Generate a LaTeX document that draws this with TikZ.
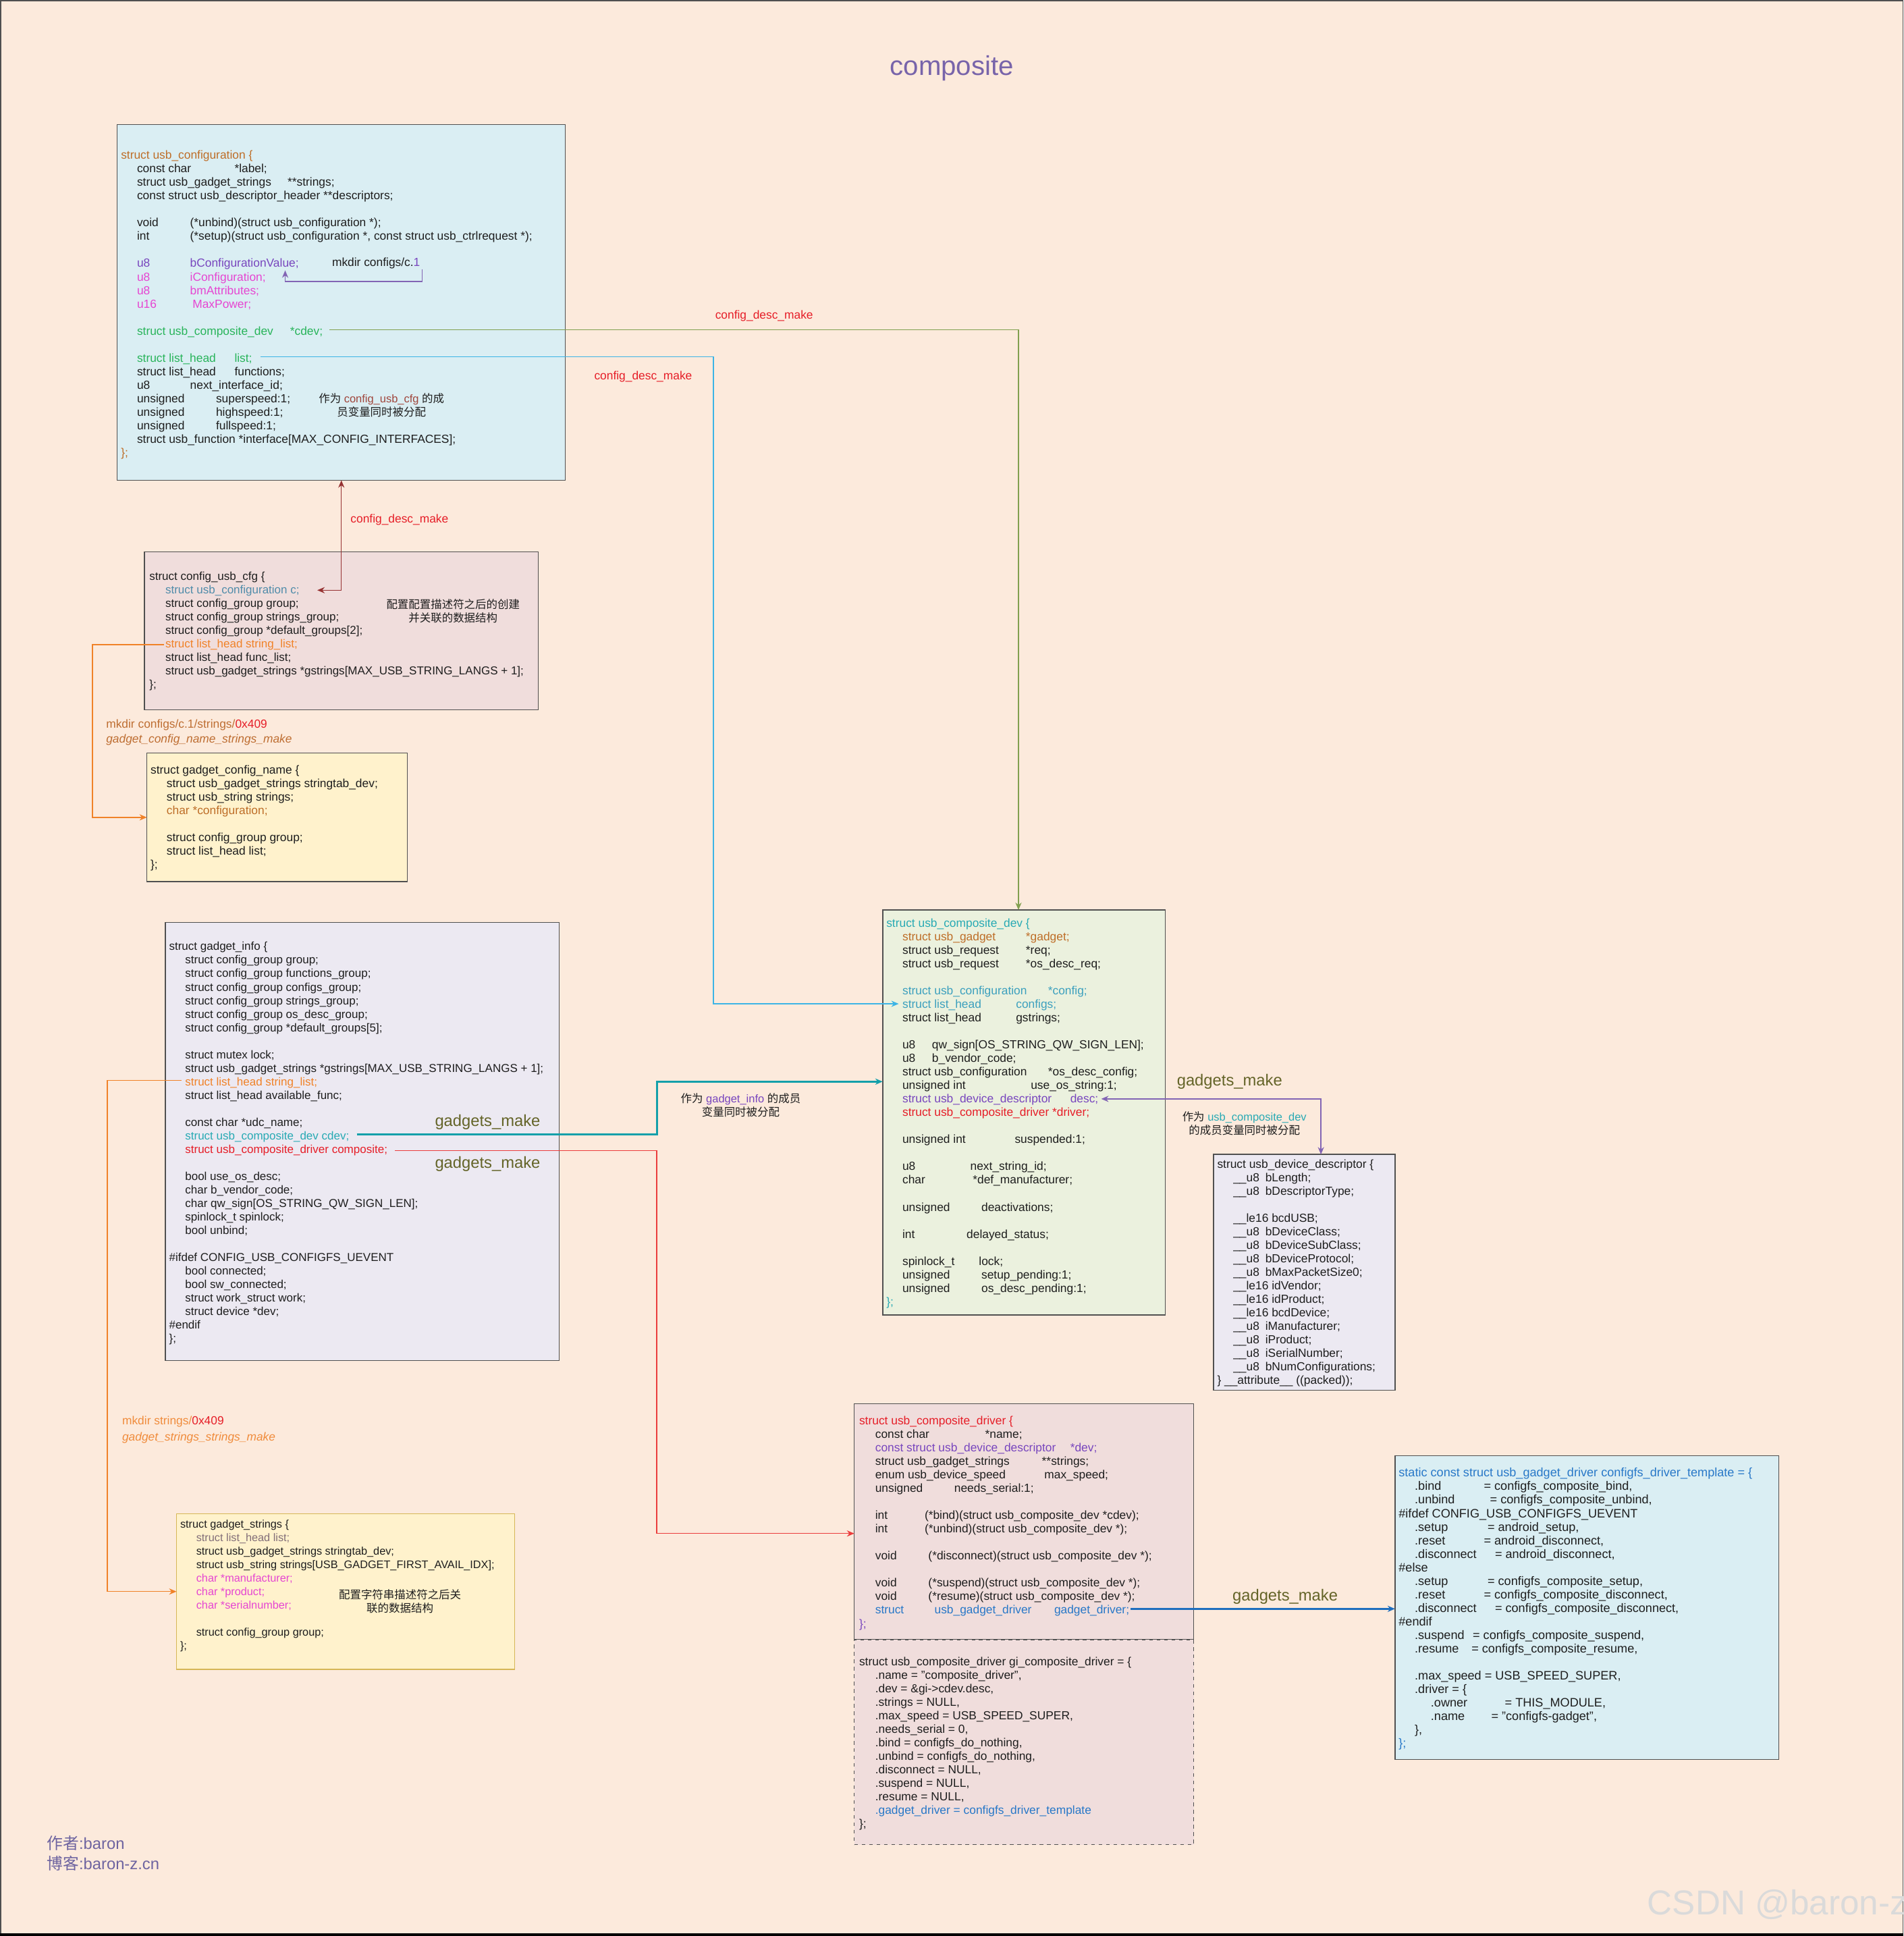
\documentclass[tikz,border=0pt]{standalone}
\usepackage{fontspec}
\setmainfont{Liberation Sans}
\newfontfamily\cjk{Noto Sans CJK SC}
\usetikzlibrary{arrows.meta}
\definecolor{cfceadc}{RGB}{252,234,220}
\definecolor{cdaeef3}{RGB}{218,238,243}
\definecolor{cf0dddc}{RGB}{240,221,220}
\definecolor{cfff2cc}{RGB}{255,242,204}
\definecolor{cece9f2}{RGB}{236,233,242}
\definecolor{cebf1de}{RGB}{235,241,222}
\definecolor{c505050}{RGB}{80,80,80}
\definecolor{cd6b656}{RGB}{214,182,86}
\definecolor{c1e1e1e}{RGB}{30,30,30}
\definecolor{cbe6e28}{RGB}{190,110,40}
\definecolor{c7846be}{RGB}{120,70,190}
\definecolor{ce646d2}{RGB}{230,70,210}
\definecolor{c28b45a}{RGB}{40,180,90}
\definecolor{c28aab4}{RGB}{40,170,180}
\definecolor{c3ca0be}{RGB}{60,160,190}
\definecolor{cf08228}{RGB}{240,130,40}
\definecolor{cf08c3c}{RGB}{240,140,60}
\definecolor{ce61e28}{RGB}{230,30,40}
\definecolor{c2878c8}{RGB}{40,120,200}
\definecolor{c646428}{RGB}{100,100,40}
\definecolor{c508caa}{RGB}{80,140,170}
\definecolor{c963c3c}{RGB}{160,70,60}
\definecolor{c826e78}{RGB}{130,110,120}
\definecolor{cbe6e32}{RGB}{190,110,50}
\definecolor{c82a050}{RGB}{130,160,80}
\definecolor{c3cb4e6}{RGB}{60,180,230}
\definecolor{c963232}{RGB}{150,50,50}
\definecolor{c8264b4}{RGB}{130,100,180}
\definecolor{c14a0aa}{RGB}{20,160,170}
\definecolor{ceb3c3c}{RGB}{235,60,60}
\definecolor{c1e6ebe}{RGB}{30,110,190}
\definecolor{c7864aa}{RGB}{120,100,170}
\definecolor{c6e64a0}{RGB}{110,100,160}
\definecolor{cdcdcdc}{RGB}{218,218,218}
\newlength{\colw}
\newcommand{\cin}{\hspace*{13pt}}
\newcommand{\ccol}[2]{\settowidth{\colw}{#2\ }\ifdim\colw<#1pt\makebox[#1pt][l]{#2}\else#2\ \fi}

\begin{document}
\begin{tikzpicture}[x=1pt, y=-1pt, inner sep=0pt, outer sep=0pt,
  box/.style={draw=c505050, line width=0.8pt, anchor=north west, rectangle},
  code/.style={anchor=north west, align=left, text=c1e1e1e, font=\fontsize{#1}{10.95}\selectfont},
  code/.default=9.5,
  note/.style={align=center, text=c1e1e1e, font=\fontsize{9}{11}\selectfont},
  lbl/.style={text=ce61e28, font=\fontsize{9.5}{11}\selectfont},
  mklbl/.style={text=c646428, font=\fontsize{13}{15}\selectfont},
  link/.style={line width=0.8pt, -{Stealth[length=6pt,width=5pt]}}]
  \useasboundingbox (0,0) rectangle (1542,1568);
  \path[fill=cfceadc, draw=c505050, line width=1pt] (0.5,0.5) rectangle (1541.5,1567);
  \path[draw=black, line width=2pt] (0,1567) -- (1542,1567);

  \node[text=c7864aa, font=\fontsize{22}{26}\selectfont] (title) at (771,55) {composite};

  % boxes
  \node[box, fill=cdaeef3, minimum width=363pt, minimum height=288pt] (usbcfg) at (95,101) {};
  \node[box, fill=cf0dddc, minimum width=319pt, minimum height=128pt] (cfgusb) at (117,447) {};
  \node[box, fill=cfff2cc, minimum width=211pt, minimum height=104pt] (gcname) at (119,610) {};
  \node[box, fill=cece9f2, minimum width=319pt, minimum height=355pt] (ginfo) at (134,747) {};
  \node[box, draw=cd6b656, fill=cfff2cc, minimum width=274pt, minimum height=126pt] (gstr) at (143,1226) {};
  \node[box, fill=cebf1de, minimum width=229pt, minimum height=328pt] (compdev) at (715,737) {};
  \node[box, fill=cece9f2, minimum width=147pt, minimum height=191pt] (devdesc) at (983,935) {};
  \node[box, fill=cf0dddc, minimum width=275pt, minimum height=191pt] (cdrvtop) at (692,1137) {};
  \node[box, fill=cf0dddc, dashed, minimum width=275pt, minimum height=166pt] (cdrvbot) at (692,1328) {};
  \node[box, fill=cdaeef3, minimum width=311pt, minimum height=246pt] (tmpl) at (1130,1179) {};

  \node[code] (usbcfgtxt) at (98,122) {\textcolor{cbe6e28}{struct usb\_configuration \{}\\
    \cin\ccol{79}{const char}*label;\\
    \cin\ccol{122}{struct usb\_gadget\_strings}**strings;\\
    \cin const struct usb\_descriptor\_header **descriptors;\\
    \mbox{}\\
    \cin\ccol{43}{void}(*unbind)(struct usb\_configuration *);\\
    \cin\ccol{43}{int}(*setup)(struct usb\_configuration *, const struct usb\_ctrlrequest *);\\
    \mbox{}\\
    \cin\textcolor{c7846be}{\ccol{43}{u8}bConfigurationValue;}\\
    \cin\textcolor{ce646d2}{\ccol{43}{u8}iConfiguration;}\\
    \cin\textcolor{ce646d2}{\ccol{43}{u8}bmAttributes;}\\
    \cin\textcolor{ce646d2}{\ccol{45}{u16}MaxPower;}\\
    \mbox{}\\
    \cin\textcolor{c28b45a}{\ccol{124}{struct usb\_composite\_dev}*cdev;}\\
    \mbox{}\\
    \cin\textcolor{c28b45a}{\ccol{79}{struct list\_head}list;}\\
    \cin\ccol{79}{struct list\_head}functions;\\
    \cin\ccol{43}{u8}next\_interface\_id;\\
    \cin\ccol{64}{unsigned}superspeed:1;\\
    \cin\ccol{64}{unsigned}highspeed:1;\\
    \cin\ccol{64}{unsigned}fullspeed:1;\\
    \cin struct usb\_function *interface[MAX\_CONFIG\_INTERFACES];\\
    \textcolor{cbe6e28}{\};}};
  \node[code, anchor=base west, text=c1e1e1e] (mkdircfg) at (269,215.5) {mkdir configs/c.\textcolor{c7846be}{1}};
  \node[note] (notecfg) at (309,328) {{\cjk 作为} \textcolor{c963c3c}{config\_usb\_cfg} {\cjk 的成}\\{\cjk 员变量同时被分配}};

  \node[code=9.3] (cfgusbtxt) at (121,463) {struct config\_usb\_cfg \{\\
    \cin\textcolor{c508caa}{struct usb\_configuration c;}\\
    \cin struct config\_group group;\\
    \cin struct config\_group strings\_group;\\
    \cin struct config\_group *default\_groups[2];\\
    \cin\textcolor{cf08228}{struct list\_head string\_list;}\\
    \cin struct list\_head func\_list;\\
    \cin struct usb\_gadget\_strings *gstrings[MAX\_USB\_STRING\_LANGS + 1];\\
    \};};
  \node[note] (notecfgusb) at (367,495) {{\cjk 配置配置描述符之后的创建}\\{\cjk 并关联的数据结构}};

  \node[code] (gcnametxt) at (122,620) {struct gadget\_config\_name \{\\
    \cin struct usb\_gadget\_strings stringtab\_dev;\\
    \cin struct usb\_string strings;\\
    \cin\textcolor{cbe6e28}{char *configuration;}\\
    \mbox{}\\
    \cin struct config\_group group;\\
    \cin struct list\_head list;\\
    \};};

  \node[code=9.3] (ginfotxt) at (137,763) {struct gadget\_info \{\\
    \cin struct config\_group group;\\
    \cin struct config\_group functions\_group;\\
    \cin struct config\_group configs\_group;\\
    \cin struct config\_group strings\_group;\\
    \cin struct config\_group os\_desc\_group;\\
    \cin struct config\_group *default\_groups[5];\\
    \mbox{}\\
    \cin struct mutex lock;\\
    \cin struct usb\_gadget\_strings *gstrings[MAX\_USB\_STRING\_LANGS + 1];\\
    \cin\textcolor{cf08228}{struct list\_head string\_list;}\\
    \cin struct list\_head available\_func;\\
    \mbox{}\\
    \cin const char *udc\_name;\\
    \cin\textcolor{c28aab4}{struct usb\_composite\_dev cdev;}\\
    \cin\textcolor{ce61e28}{struct usb\_composite\_driver composite;}\\
    \mbox{}\\
    \cin bool use\_os\_desc;\\
    \cin char b\_vendor\_code;\\
    \cin char qw\_sign[OS\_STRING\_QW\_SIGN\_LEN];\\
    \cin spinlock\_t spinlock;\\
    \cin bool unbind;\\
    \mbox{}\\
    \#ifdef CONFIG\_USB\_CONFIGFS\_UEVENT\\
    \cin bool connected;\\
    \cin bool sw\_connected;\\
    \cin struct work\_struct work;\\
    \cin struct device *dev;\\
    \#endif\\
    \};};

  \node[code=8.9] (gstrtxt) at (146,1231) {struct gadget\_strings \{\\
    \cin\textcolor{c826e78}{struct list\_head list;}\\
    \cin struct usb\_gadget\_strings stringtab\_dev;\\
    \cin struct usb\_string strings[USB\_GADGET\_FIRST\_AVAIL\_IDX];\\
    \cin\textcolor{ce646d2}{char *manufacturer;}\\
    \cin\textcolor{ce646d2}{char *product;}\\
    \cin\textcolor{ce646d2}{char *serialnumber;}\\
    \mbox{}\\
    \cin struct config\_group group;\\
    \};};
  \node[note] (notegstr) at (324,1297) {{\cjk 配置字符串描述符之后关}\\{\cjk 联的数据结构}};

  \node[code] (compdevtxt) at (718,744) {\textcolor{c28aab4}{struct usb\_composite\_dev \{}\\
    \cin\textcolor{cbe6e28}{\ccol{100}{struct usb\_gadget}*gadget;}\\
    \cin\ccol{100}{struct usb\_request}*req;\\
    \cin\ccol{100}{struct usb\_request}*os\_desc\_req;\\
    \mbox{}\\
    \cin\textcolor{c3ca0be}{\ccol{118}{struct usb\_configuration}*config;}\\
    \cin\textcolor{c3ca0be}{\ccol{92}{struct list\_head}configs;}\\
    \cin\ccol{92}{struct list\_head}gstrings;\\
    \mbox{}\\
    \cin\ccol{24}{u8}qw\_sign[OS\_STRING\_QW\_SIGN\_LEN];\\
    \cin\ccol{24}{u8}b\_vendor\_code;\\
    \cin\ccol{118}{struct usb\_configuration}*os\_desc\_config;\\
    \cin\ccol{104}{unsigned int}use\_os\_string:1;\\
    \cin\textcolor{c7846be}{\ccol{136}{struct usb\_device\_descriptor}desc;}\\
    \cin\textcolor{ce61e28}{struct usb\_composite\_driver *driver;}\\
    \mbox{}\\
    \cin\ccol{91}{unsigned int}suspended:1;\\
    \mbox{}\\
    \cin\ccol{55}{u8}next\_string\_id;\\
    \cin\ccol{57}{char}*def\_manufacturer;\\
    \mbox{}\\
    \cin\ccol{64}{unsigned}deactivations;\\
    \mbox{}\\
    \cin\ccol{52}{int}delayed\_status;\\
    \mbox{}\\
    \cin\ccol{62}{spinlock\_t}lock;\\
    \cin\ccol{64}{unsigned}setup\_pending:1;\\
    \cin\ccol{64}{unsigned}os\_desc\_pending:1;\\
    \textcolor{c28aab4}{\};}};

  \node[code] (devdesctxt) at (986,939) {struct usb\_device\_descriptor \{\\
    \cin\ccol{26}{\_\_u8}bLength;\\
    \cin\ccol{26}{\_\_u8}bDescriptorType;\\
    \mbox{}\\
    \cin\_\_le16 bcdUSB;\\
    \cin\ccol{26}{\_\_u8}bDeviceClass;\\
    \cin\ccol{26}{\_\_u8}bDeviceSubClass;\\
    \cin\ccol{26}{\_\_u8}bDeviceProtocol;\\
    \cin\ccol{26}{\_\_u8}bMaxPacketSize0;\\
    \cin\_\_le16 idVendor;\\
    \cin\_\_le16 idProduct;\\
    \cin\_\_le16 bcdDevice;\\
    \cin\ccol{26}{\_\_u8}iManufacturer;\\
    \cin\ccol{26}{\_\_u8}iProduct;\\
    \cin\ccol{26}{\_\_u8}iSerialNumber;\\
    \cin\ccol{26}{\_\_u8}bNumConfigurations;\\
    \} \_\_attribute\_\_ ((packed));};
  \node[note] (notedesc) at (1008,910) {{\cjk 作为} \textcolor{c28aab4}{usb\_composite\_dev}\\{\cjk 的成员变量同时被分配}};

  \node[code] (cdrvtoptxt) at (696,1147) {\textcolor{ce61e28}{struct usb\_composite\_driver \{}\\
    \cin\ccol{89}{const char}*name;\\
    \cin\textcolor{c7846be}{\ccol{158}{const struct usb\_device\_descriptor}*dev;}\\
    \cin\ccol{135}{struct usb\_gadget\_strings}**strings;\\
    \cin\ccol{137}{enum usb\_device\_speed}max\_speed;\\
    \cin\ccol{64}{unsigned}needs\_serial:1;\\
    \mbox{}\\
    \cin\ccol{40}{int}(*bind)(struct usb\_composite\_dev *cdev);\\
    \cin\ccol{40}{int}(*unbind)(struct usb\_composite\_dev *);\\
    \mbox{}\\
    \cin\ccol{43}{void}(*disconnect)(struct usb\_composite\_dev *);\\
    \mbox{}\\
    \cin\ccol{43}{void}(*suspend)(struct usb\_composite\_dev *);\\
    \cin\ccol{43}{void}(*resume)(struct usb\_composite\_dev *);\\
    \cin\textcolor{c2878c8}{\ccol{48}{struct}\ccol{97}{usb\_gadget\_driver}gadget\_driver;}\\
    \textcolor{c7846be}{\};}};

  \node[code] (cdrvbottxt) at (696,1342) {struct usb\_composite\_driver gi\_composite\_driver = \{\\
    \cin .name = "composite\_driver",\\
    \cin .dev = \&gi->cdev.desc,\\
    \cin .strings = NULL,\\
    \cin .max\_speed = USB\_SPEED\_SUPER,\\
    \cin .needs\_serial = 0,\\
    \cin .bind = configfs\_do\_nothing,\\
    \cin .unbind = configfs\_do\_nothing,\\
    \cin .disconnect = NULL,\\
    \cin .suspend = NULL,\\
    \cin .resume = NULL,\\
    \cin\textcolor{c2878c8}{.gadget\_driver = configfs\_driver\_template}\\
    \};};

  \node[code=9.9] (tmpltxt) at (1133,1189) {\textcolor{c2878c8}{static const struct usb\_gadget\_driver configfs\_driver\_template = \{}\\
    \cin\ccol{56}{.bind}= configfs\_composite\_bind,\\
    \cin\ccol{61}{.unbind}= configfs\_composite\_unbind,\\
    \#ifdef CONFIG\_USB\_CONFIGFS\_UEVENT\\
    \cin\ccol{59}{.setup}= android\_setup,\\
    \cin\ccol{56}{.reset}= android\_disconnect,\\
    \cin\ccol{65}{.disconnect}= android\_disconnect,\\
    \#else\\
    \cin\ccol{59}{.setup}= configfs\_composite\_setup,\\
    \cin\ccol{56}{.reset}= configfs\_composite\_disconnect,\\
    \cin\ccol{65}{.disconnect}= configfs\_composite\_disconnect,\\
    \#endif\\
    \cin\ccol{47}{.suspend}= configfs\_composite\_suspend,\\
    \cin\ccol{46}{.resume}= configfs\_composite\_resume,\\
    \mbox{}\\
    \cin\ccol{49}{.max\_speed}= USB\_SPEED\_SUPER,\\
    \cin .driver = \{\\
    \cin\cin\ccol{60}{.owner}= THIS\_MODULE,\\
    \cin\cin\ccol{49}{.name}= "configfs-gadget",\\
    \cin\},\\
    \textcolor{c2878c8}{\};}};

  % connector ends
  \coordinate (mkc) at (342,218);
  \coordinate (bcv) at (231,219);
  \coordinate (cdevcfg) at (267,267);
  \coordinate (grx) at (825,0);
  \coordinate (listcfg) at (211,289);
  \coordinate (cyturn) at (578,813);
  \coordinate (configsln) at (728,813);
  \coordinate (cfgc) at (257,478);
  \coordinate (slcfg) at (133,522);
  \coordinate (or1turn) at (75,662);
  \coordinate (slinfo) at (147,875);
  \coordinate (or2turn) at (87,1289);
  \coordinate (cdevinfo) at (289,919);
  \coordinate (tlturn) at (532,876);
  \coordinate (compinfo) at (320,932);
  \coordinate (rdturn) at (532,1242);
  \coordinate (descln) at (892,890);
  \coordinate (descx) at (1070,0);
  \coordinate (gdrvln) at (916,1303);

  \path[draw=c8264b4, link] (mkc) -- ++(0,10) -| (bcv);
  \path[draw=c82a050, link] (cdevcfg) -| (compdev.north -| grx);
  \path[draw=c3cb4e6, link] (listcfg) -| (cyturn) -- (configsln);
  \path[draw=c963232, link, {Stealth[length=6pt,width=5pt]}-{Stealth[length=6pt,width=5pt]}] (cfgc) -| (usbcfg.south);
  \path[draw=cf08228, link] (slcfg) -| (or1turn) -- (gcname.west);
  \path[draw=cf08228, link] (slinfo) -| (or2turn) -- (gstr.west);
  \path[draw=c14a0aa, link, line width=1.6pt] (cdevinfo) -| (tlturn) -- (tlturn -| compdev.west);
  \path[draw=ceb3c3c, link] (compinfo) -| (rdturn) -- (rdturn -| cdrvtop.west);
  \path[draw=c8264b4, link, {Stealth[length=6pt,width=5pt]}-{Stealth[length=6pt,width=5pt]}] (descln) -| (devdesc.north -| descx);
  \path[draw=c1e6ebe, link, line width=1.3pt] (gdrvln) -- (gdrvln -| tmpl.west);

  % labels
  \node[lbl] (cdm1) at (619,256) {config\_desc\_make};
  \node[lbl] (cdm2) at (521,305) {config\_desc\_make};
  \node[lbl, anchor=west] (cdm3) at (284,421) {config\_desc\_make};
  \node[mklbl] (gm1) at (395,909) {gadgets\_make};
  \node[mklbl] (gm2) at (395,943) {gadgets\_make};
  \node[mklbl] (gm3) at (996,876) {gadgets\_make};
  \node[mklbl] (gm4) at (1041,1293) {gadgets\_make};
  \node[note] (notecomp) at (600,895) {{\cjk 作为} \textcolor{c7846be}{gadget\_info} {\cjk 的成员}\\{\cjk 变量同时被分配}};
  \node[code, text=cbe6e32, font=\fontsize{9.5}{12}\selectfont] (mkstr1) at (86,583) {mkdir configs/c.1/strings/\textcolor{ce61e28}{0x409}\\\textit{gadget\_config\_name\_strings\_make}};
  \node[code, text=cf08c3c, font=\fontsize{9.5}{13}\selectfont] (mkstr2) at (99,1147) {mkdir strings/\textcolor{ce61e28}{0x409}\\\textit{gadget\_strings\_strings\_make}};

  \node[anchor=west, text=c6e64a0, font=\fontsize{13}{15}\selectfont] (author) at (38,1493) {{\cjk 作者}:baron};
  \node[anchor=west, text=c6e64a0, font=\fontsize{13}{15}\selectfont] (blog) at (38,1509) {{\cjk 博客}:baron-z.cn};
  \node[anchor=base east, text=cdcdcdc, font=\fontsize{28}{32}\selectfont] (mark) at (1545,1551) {CSDN @baron-z};
\end{tikzpicture}
\end{document}
